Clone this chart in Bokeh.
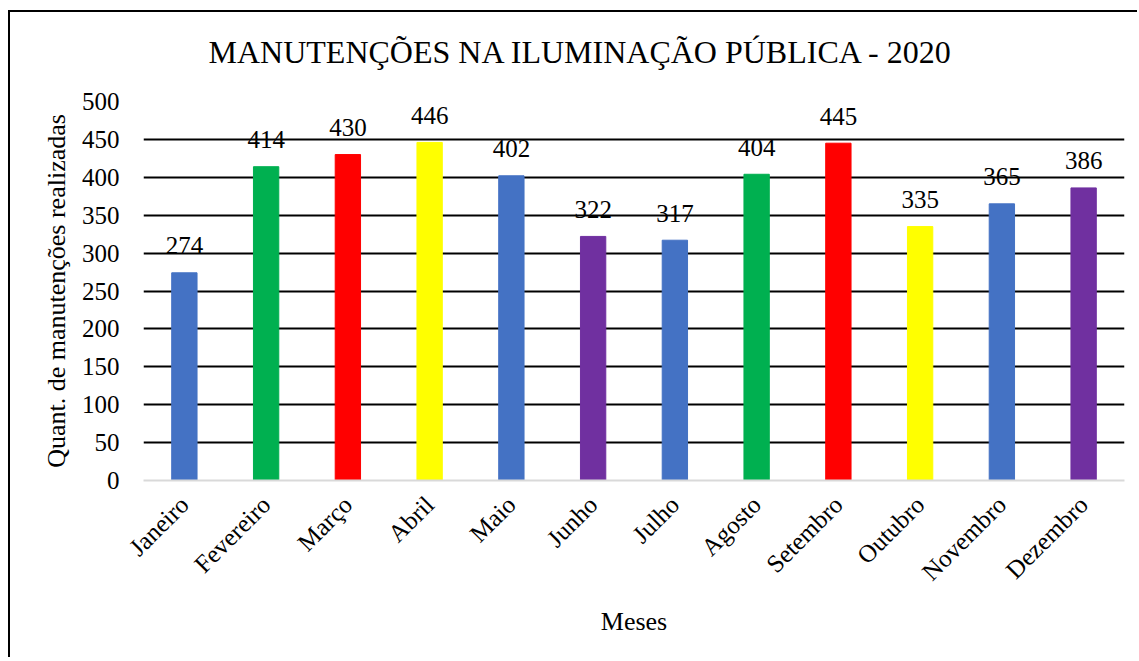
import math
from bokeh.plotting import figure
from bokeh.models import ColumnDataSource, FixedTicker, Title
from bokeh.embed import file_html
from bokeh.resources import INLINE

months = ["Janeiro", "Fevereiro", "Março", "Abril", "Maio", "Junho", "Julho",
          "Agosto", "Setembro", "Outubro", "Novembro", "Dezembro"]
values = [274, 414, 430, 446, 402, 322, 317, 404, 445, 335, 365, 386]
colors = ["#4472C4", "#00B050", "#FF0000", "#FFFF00", "#4472C4", "#7030A0",
          "#4472C4", "#00B050", "#FF0000", "#FFFF00", "#4472C4", "#7030A0"]
y_ticks = [0, 50, 100, 150, 200, 250, 300, 350, 400, 450, 500]

FONT = "Liberation Serif"

src = ColumnDataSource(dict(m=months, v=values, c=colors, lab=[str(v) for v in values]))

p = figure(x_range=months, y_range=(0, 500), width=1129, height=647,
           output_backend="svg", toolbar_location=None,
           title="MANUTENÇÕES NA ILUMINAÇÃO PÚBLICA - 2020",
           min_border_left=133, min_border_right=15, min_border_top=89,
           min_border_bottom=179,
           styles={"border-left": "2px solid black", "border-top": "2px solid black",
                   "margin-left": "8px", "margin-top": "10px"})

p.vbar(x="m", top="v", width=0.31, color="c", source=src)
p.text(x="m", y="v", text="lab", source=src, text_align="center",
       text_baseline="alphabetic", y_offset=-27, text_font_size="25px",
       text_color="black", text_font={"value": FONT})

p.title.align = "left"
p.title.offset = 65
p.title.text_font = FONT
p.title.text_font_size = "32px"
p.title.text_font_style = "normal"
p.title.text_color = "black"

# spacer between title and plot frame
p.add_layout(Title(text=" ", text_font_size="13px"), "above")

p.outline_line_color = None
p.xgrid.grid_line_color = None
p.ygrid.grid_line_color = "black"
p.ygrid.grid_line_width = 2
p.ygrid.ticker = FixedTicker(ticks=y_ticks[1:])

p.yaxis.ticker = FixedTicker(ticks=y_ticks)
p.yaxis.axis_line_color = None
p.yaxis.major_tick_line_color = None
p.yaxis.minor_tick_line_color = None
p.yaxis.major_label_text_font = FONT
p.yaxis.major_label_text_font_size = "25px"
p.yaxis.major_label_text_color = "black"
p.yaxis.major_label_standoff = 18
p.yaxis.axis_label = "Quant. de manutenções realizadas"
p.yaxis.axis_label_text_font = FONT
p.yaxis.axis_label_text_font_size = "26px"
p.yaxis.axis_label_text_font_style = "normal"
p.yaxis.axis_label_text_color = "black"
p.yaxis.axis_label_standoff = 8

p.xaxis.axis_line_color = "#D9D9D9"
p.xaxis.axis_line_width = 2
p.xaxis.major_tick_line_color = None
p.xaxis.minor_tick_line_color = None
p.xaxis.major_label_orientation = math.pi / 4
p.xaxis.major_label_text_font = FONT
p.xaxis.major_label_text_font_size = "25px"
p.xaxis.major_label_text_color = "black"
p.xaxis.major_label_standoff = 14
p.xaxis.axis_label = "Meses"
p.xaxis.axis_label_text_font = FONT
p.xaxis.axis_label_text_font_size = "26px"
p.xaxis.axis_label_text_font_style = "normal"
p.xaxis.axis_label_text_color = "black"
p.xaxis.axis_label_standoff = 9

p.x_range.range_padding = 0

open("out.html", "w").write(file_html(p, INLINE))
